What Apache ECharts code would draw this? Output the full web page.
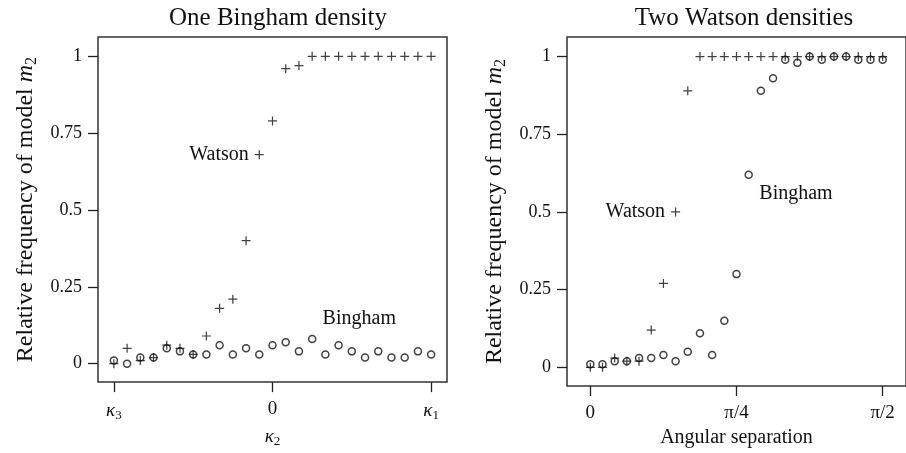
<!DOCTYPE html>
<html>
<head>
<meta charset="utf-8">
<script src="https://cdn.jsdelivr.net/npm/echarts@6/dist/echarts.min.js"></script>
<style>
html, body { margin: 0; padding: 0; background: #fff; }
#main { width: 906px; height: 453px; }
</style>
</head>
<body>
<div id="main"></div>
<script>
// 左图：一个 Bingham 密度，横轴 κ3 .. 0 .. κ1（25 个点）
var leftWatson = [0, 0.05, 0.01, 0.02, 0.06, 0.05, 0.03, 0.09, 0.18, 0.21, 0.40, 0.68, 0.79,
	0.96, 0.97, 1, 1, 1, 1, 1, 1, 1, 1, 1, 1];
var leftBingham = [0.01, 0, 0.02, 0.02, 0.05, 0.04, 0.03, 0.03, 0.06, 0.03, 0.05, 0.03, 0.06,
	0.07, 0.04, 0.08, 0.03, 0.06, 0.04, 0.02, 0.04, 0.02, 0.02, 0.04, 0.03];
// 右图：两个 Watson 密度，横轴角度 0 .. π/2（25 个点）
var rightWatson = [0, 0, 0.03, 0.02, 0.02, 0.12, 0.27, 0.50, 0.89, 1, 1, 1, 1,
	1, 1, 1, 1, 1, 1, 1, 1, 1, 1, 1, 1];
var rightBingham = [0.01, 0.01, 0.02, 0.02, 0.03, 0.03, 0.04, 0.02, 0.05, 0.11, 0.04, 0.15, 0.30,
	0.62, 0.89, 0.93, 0.99, 0.98, 1, 0.99, 1, 1, 0.99, 0.99, 0.99];
var yTicks = [0, 0.25, 0.5, 0.75, 1];
var leftTicks = [-1, 0, 1]; // κ3, 0, κ1
var rightTicks = [0, Math.PI / 4, Math.PI / 2];

var FONT = 'Liberation Serif';
var PLUS = 'path://M-0.55,-4H0.55V-0.55H4V0.55H0.55V4H-0.55V0.55H-4V-0.55H-0.55Z';

function pairs(xs, ys) {
	var out = [];
	for (var i = 0; i < ys.length; i++) {
		out.push([xs[i], ys[i]]);
	}
	return out;
}
var leftX = [], rightX = [];
for (var i = 0; i < 25; i++) {
	leftX.push(-1 + i / 12);
	rightX.push(i * Math.PI / 48);
}

var tickRich = {
	k: { fontFamily: FONT, fontStyle: 'italic', fontSize: 19, color: '#111' },
	n: { fontFamily: FONT, fontSize: 19, color: '#111' },
	s: { fontFamily: FONT, fontSize: 13, color: '#111', padding: [10, 0, 0, 0] }
};
var nameRich = {
	k: { fontFamily: FONT, fontStyle: 'italic', fontSize: 24, color: '#111' },
	n: { fontFamily: FONT, fontSize: 24, color: '#111' },
	s: { fontFamily: FONT, fontSize: 16, color: '#111', padding: [12, 0, 0, 0] }
};

function yAxis(idx) {
	return {
		gridIndex: idx, type: 'value', min: -0.06, max: 1.063,
		name: '{n|Relative frequency of model }{k|m}{s|2}',
		nameLocation: 'middle', nameGap: 58,
		nameTextStyle: { rich: nameRich },
		axisLine: { show: false, onZero: false },
		axisTick: { show: true, length: 10, lineStyle: { color: '#222', width: 1.3 }, customValues: yTicks },
		axisLabel: {
			margin: 16, fontFamily: FONT, fontSize: 18, color: '#111', customValues: yTicks,
			formatter: function(v) { return String(+v.toFixed(2)); }
		},
		splitLine: { show: false }
	};
}

function textMark(coord, text, pos) {
	return {
		coord: coord, symbol: 'circle', symbolSize: 1,
		itemStyle: { color: 'rgba(0,0,0,0)' },
		label: { show: true, formatter: text, position: pos, distance: 10,
			fontFamily: FONT, fontSize: 20, color: '#111' }
	};
}

var dom = document.getElementById('main');
var myChart = echarts.init(dom);

var option = {
	backgroundColor: '#fff',
	animation: false,
	title: [
		{ text: 'One Bingham density', left: 273, top: 1, textAlign: 'center',
			textStyle: { fontFamily: FONT, fontSize: 25, fontWeight: 'normal', color: '#111' } },
		{ text: 'Two Watson densities', left: 739, top: 1, textAlign: 'center',
			textStyle: { fontFamily: FONT, fontSize: 25, fontWeight: 'normal', color: '#111' } }
	],
	grid: [
		{ left: 98, top: 37, width: 349, height: 349, show: true, borderColor: '#333', borderWidth: 1.5 },
		{ left: 567, top: 37, width: 350, height: 349, show: true, borderColor: '#333', borderWidth: 1.5 }
	],
	xAxis: [
		{
			gridIndex: 0, type: 'value', min: -1.1, max: 1.1,
			name: '{k|κ}{s|2}', nameLocation: 'middle', nameGap: 40,
			nameTextStyle: { rich: tickRich },
			axisLine: { show: false, onZero: false },
			axisTick: { show: true, length: 10, lineStyle: { color: '#222', width: 1.3 }, customValues: leftTicks },
			axisLabel: {
				margin: 17, customValues: leftTicks, rich: tickRich,
				formatter: function(v) {
					if (v < -0.5) return '{k|κ}{s|3}';
					if (v > 0.5) return '{k|κ}{s|1}';
					return '{n|0}';
				}
			},
			splitLine: { show: false }
		},
		{
			gridIndex: 1, type: 'value', min: -0.1253, max: Math.PI / 2 + 0.1253,
			name: 'Angular separation', nameLocation: 'middle', nameGap: 37,
			nameTextStyle: { fontFamily: FONT, fontSize: 20, color: '#111' },
			axisLine: { show: false, onZero: false },
			axisTick: { show: true, length: 10, lineStyle: { color: '#222', width: 1.3 }, customValues: rightTicks },
			axisLabel: {
				margin: 18, fontFamily: FONT, fontSize: 19, color: '#111', customValues: rightTicks,
				formatter: function(v) {
					if (v < 0.1) return '0';
					if (v < 1) return 'π/4';
					return 'π/2';
				}
			},
			splitLine: { show: false }
		}
	],
	yAxis: [yAxis(0), yAxis(1)],
	series: [
		{
			type: 'scatter', xAxisIndex: 0, yAxisIndex: 0, name: 'Bingham',
			data: pairs(leftX, leftBingham), symbol: 'circle', symbolSize: 7,
			itemStyle: { color: 'rgba(0,0,0,0)', borderColor: '#111', borderWidth: 1.5 },
			markPoint: { data: [textMark([0.547, 0.146], 'Bingham', 'inside')] }
		},
		{
			type: 'scatter', xAxisIndex: 0, yAxisIndex: 0, name: 'Watson',
			data: pairs(leftX, leftWatson), symbol: PLUS, symbolSize: 9,
			itemStyle: { color: '#111' },
			markPoint: { data: [textMark([leftX[11], leftWatson[11]], 'Watson', 'left')] }
		},
		{
			type: 'scatter', xAxisIndex: 1, yAxisIndex: 1, name: 'Bingham',
			data: pairs(rightX, rightBingham), symbol: 'circle', symbolSize: 7,
			itemStyle: { color: 'rgba(0,0,0,0)', borderColor: '#111', borderWidth: 1.5 },
			markPoint: { data: [textMark([1.105, 0.56], 'Bingham', 'inside')] }
		},
		{
			type: 'scatter', xAxisIndex: 1, yAxisIndex: 1, name: 'Watson',
			data: pairs(rightX, rightWatson), symbol: PLUS, symbolSize: 9,
			itemStyle: { color: '#111' },
			markPoint: { data: [textMark([rightX[7], rightWatson[7]], 'Watson', 'left')] }
		}
	]
};
myChart.setOption(option);
</script>
</body>
</html>
